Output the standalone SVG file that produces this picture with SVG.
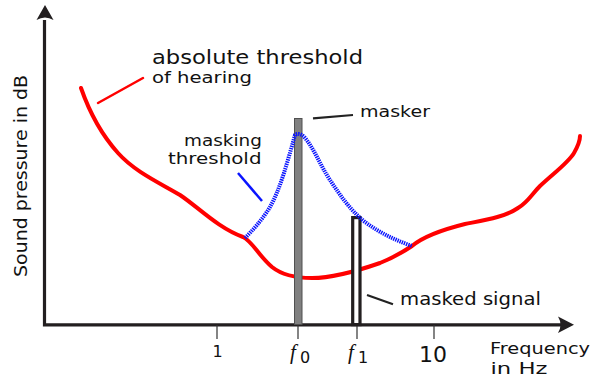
<svg xmlns="http://www.w3.org/2000/svg" width="596" height="379" viewBox="0 0 596 379">
<style>
  text { font-family: "DejaVu Sans", Verdana, sans-serif; fill: #111; }
  .axis { stroke: #231f20; stroke-width: 3.2; fill: none; }
  .tick { stroke: #333; stroke-width: 1.2; }
  .red { stroke: #ff0000; stroke-width: 4; fill: none; stroke-linecap: round; stroke-linejoin: round; }
  .blue { stroke: #0a14ff; stroke-width: 4; fill: none; stroke-dasharray: 1.4 0.9; }
  .ptr { stroke-width: 2.5; }
  .math { font-family: "Liberation Serif", "Times New Roman", serif; font-style: italic; }
</style>
<rect width="596" height="379" fill="#fff"/>
<g id="axes">
  <path class="axis" d="M44.5,20 V324.8 H562"/>
  <path d="M45,5 L53.5,20 Q45,15 36.5,20 Z" fill="#231f20"/>
  <path d="M574,324.8 L558,316.5 Q563,324.8 558,333 Z" fill="#231f20"/>
  <line class="tick" x1="217" y1="325" x2="217" y2="339"/>
  <line class="tick" x1="298" y1="325" x2="298" y2="339"/>
  <line class="tick" x1="357" y1="325" x2="357" y2="339"/>
  <line class="tick" x1="434" y1="325" x2="434" y2="339"/>
  <text x="27" y="277" font-size="17" transform="rotate(-90 27 277)" textLength="202" lengthAdjust="spacingAndGlyphs">Sound pressure in dB</text>
  <text x="490" y="353.5" font-size="16" textLength="100" lengthAdjust="spacingAndGlyphs">Frequency</text>
  <text x="490.5" y="373.5" font-size="16" textLength="57" lengthAdjust="spacingAndGlyphs">in Hz</text>
  <text x="217.5" y="356.7" font-size="16" text-anchor="middle">1</text>
  <text x="433" y="361.7" font-size="22" text-anchor="middle" textLength="28" lengthAdjust="spacingAndGlyphs">10</text>
  <text class="math" x="290" y="359" font-size="21">f</text>
  <text x="300" y="362.5" font-size="16">0</text>
  <text class="math" x="348" y="359" font-size="21">f</text>
  <text x="358" y="362.5" font-size="16">1</text>
</g>
<g id="absolute-threshold">
  <path class="red" d="M81,88 C88,108 100,133 118,153 C135,172 160,183 180,195 C198,207 218,228 243,237 C252,241 258,255 272,267 C282,275 295,278 312,278 C335,278 360,270 380,263 C395,257 403,252 412,246 C425,235 445,229 465,224 C485,220 505,217 518,208 C528,202 531,195 540,186 C555,172 568,163 574,153 C578,146 580,140 580,136"/>
  <line class="red ptr" x1="98" y1="103" x2="143" y2="78" stroke-linecap="butt"/>
  <text x="152" y="63.5" font-size="20" textLength="211" lengthAdjust="spacingAndGlyphs">absolute threshold</text>
  <text x="152" y="82.5" font-size="16" textLength="100" lengthAdjust="spacingAndGlyphs">of hearing</text>
</g>
<g id="masker">
  <rect x="294.5" y="118.5" width="7.5" height="206" fill="#808080" stroke="#505050" stroke-width="1"/>
  <line x1="313" y1="118.3" x2="353" y2="115" stroke="#222" stroke-width="2.2"/>
  <text x="360" y="116.7" font-size="16.5" textLength="70" lengthAdjust="spacingAndGlyphs">masker</text>
</g>
<g id="masked-signal">
  <rect x="352.7" y="217.6" width="7.3" height="107" fill="#fff" stroke="#231f20" stroke-width="3.2"/>
  <line x1="367" y1="295" x2="393" y2="304.3" stroke="#222" stroke-width="2.2"/>
  <text x="400" y="305" font-size="17" textLength="141" lengthAdjust="spacingAndGlyphs">masked signal</text>
</g>
<g id="masking-threshold">
  <path class="blue" d="M245,238 C255,228 264,217 270,207 C280,190 288,160 295,135 C298,133 302,134 305,138 C315,150 320,165 330,180 C340,195 350,210 365,222 C380,233 395,240 412,246"/>
  <line x1="238" y1="173" x2="262" y2="201" stroke="#0a14ff" stroke-width="2.5"/>
  <text x="184" y="146" font-size="16.5" textLength="78" lengthAdjust="spacingAndGlyphs">masking</text>
  <text x="168" y="164" font-size="16.5" textLength="93.5" lengthAdjust="spacingAndGlyphs">threshold</text>
</g>
</svg>
